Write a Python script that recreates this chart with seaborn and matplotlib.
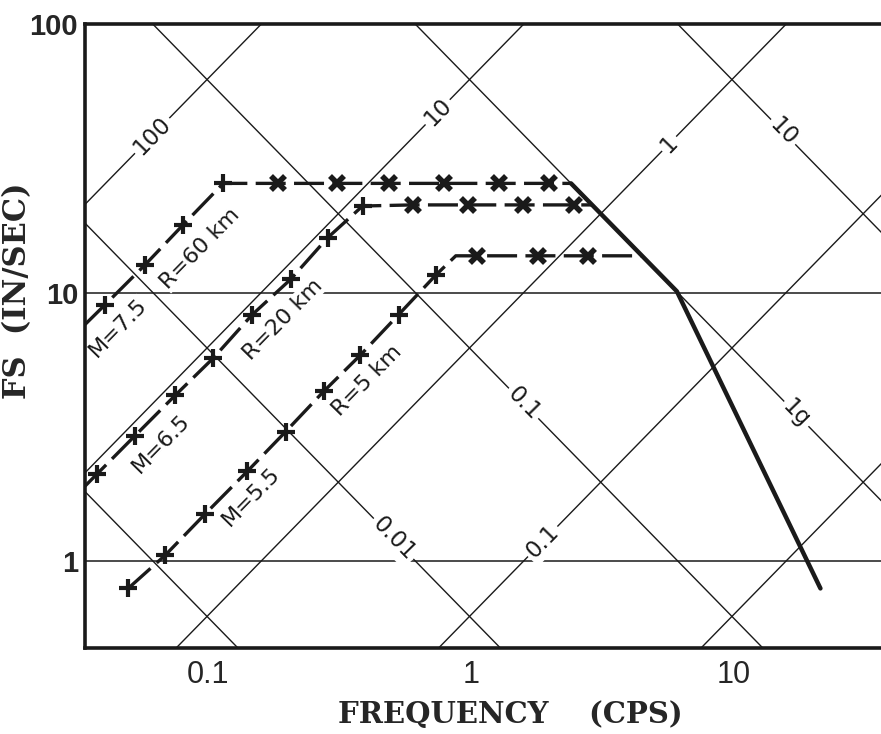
import matplotlib
matplotlib.use("Agg")
import numpy as np
import pandas as pd
import matplotlib.pyplot as plt
import seaborn as sns
from matplotlib.ticker import NullLocator

sns.set_theme(style="white")
plt.rcParams["font.family"] = ["DejaVu Sans"]

# ---------------------------------------------------------------
# spectra (frequency in cps, FS in in/sec)
# ---------------------------------------------------------------
freq_75 = [0.0339, 0.0404, 0.0575, 0.0803, 0.114, 0.185, 0.308, 0.487, 0.789, 1.28, 1.99, 2.41]
vel_75 = [7.6, 9.0, 12.7, 17.9, 25.5, 25.5, 25.5, 25.5, 25.5, 25.5, 25.5, 25.5]
mark_75 = ["", "+", "+", "+", "+", "x", "x", "x", "x", "x", "x", ""]

freq_65 = [0.0339, 0.0377, 0.0526, 0.0748, 0.1045, 0.147, 0.206, 0.285, 0.387,
           0.601, 0.98, 1.58, 2.47, 2.9]
vel_65 = [1.9, 2.11, 2.93, 4.14, 5.7, 8.27, 11.2, 16.0, 21.0, 21.2, 21.2, 21.2, 21.2, 21.2]
mark_65 = ["", "+", "+", "+", "+", "+", "+", "+", "+", "x", "x", "x", "x", ""]

freq_55 = [0.0495, 0.0685, 0.0975, 0.141, 0.197, 0.275, 0.380, 0.531, 0.735,
           0.877, 1.06, 1.80, 2.80, 4.45]
vel_55 = [0.79, 1.05, 1.50, 2.16, 3.03, 4.28, 5.85, 8.27, 11.6, 13.7, 13.7, 13.7, 13.7, 13.7]
mark_55 = ["+", "+", "+", "+", "+", "+", "+", "+", "+", "", "x", "x", "x", ""]

# heavy envelope line
freq_env = [2.41, 6.1, 21.5]
vel_env = [25.5, 10.1, 0.79]

# tripartite grid: displacement (in) and acceleration (g)
disp_lines = [100, 10, 1, 0.1, 0.01]
disp_text = ["100", "10", "1", "0.1", ""]
disp_label_f = [0.0611, 0.748, 5.70, 1.88, None]
acc_lines = [10, 1, 0.1, 0.01, 0.001]
acc_text = ["10", "1g", "0.1", "0.01", ""]
acc_label_f = [15.5, 17.4, 1.59, 0.508, None]
G_IN = 386.1

# curve captions
cap_text = ["M=7.5", "R=60 km", "M=6.5", "R=20 km", "M=5.5", "R=5 km"]
cap_f = [0.0453, 0.0932, 0.0662, 0.192, 0.146, 0.404]
cap_v = [7.39, 14.6, 2.73, 7.92, 1.73, 4.71]

# ---------------------------------------------------------------
fig = plt.figure(figsize=(8.81, 7.34), dpi=100)
ax = fig.add_axes([0.0965, 0.1172, 0.905, 0.850])
ax.set_xscale("log")
ax.set_yscale("log")
ax.set_xlim(0.0339, 37.0)
ax.set_ylim(0.474, 100)

# angle of a slope +1 line on screen
p0 = ax.transData.transform((1, 1))
p1 = ax.transData.transform((10, 10))
ang = np.degrees(np.arctan2(p1[1] - p0[1], p1[0] - p0[0]))

f_ends = np.array(ax.get_xlim())
for d, txt, lf in zip(disp_lines, disp_text, disp_label_f):
    ax.plot(f_ends, 2 * np.pi * f_ends * d, color="k", lw=1.0, zorder=1)
    if lf:
        ax.text(lf, 2 * np.pi * lf * d, txt, rotation=ang, ha="center", va="center",
                rotation_mode="anchor", fontsize=16.5, color="k", zorder=2,
                bbox=dict(fc="white", ec="none", pad=2))
for a, txt, lf in zip(acc_lines, acc_text, acc_label_f):
    ax.plot(f_ends, a * G_IN / (2 * np.pi * f_ends), color="k", lw=1.0, zorder=1)
    if lf:
        ax.text(lf, a * G_IN / (2 * np.pi * lf), txt, rotation=-ang, ha="center", va="center",
                rotation_mode="anchor", fontsize=16.5, color="k", zorder=2,
                bbox=dict(fc="white", ec="none", pad=2))

for fr, ve, mk in [(freq_75, vel_75, mark_75), (freq_65, vel_65, mark_65), (freq_55, vel_55, mark_55)]:
    df = pd.DataFrame({"freq": fr, "vel": ve, "mark": mk})
    sns.lineplot(data=df, x="freq", y="vel", sort=False, estimator=None, color="k",
                 lw=2.4, linestyle=(0, (9, 2.5)), ax=ax, zorder=3)
    plus = df[df["mark"] == "+"]
    cross = df[df["mark"] == "x"]
    ax.plot(plus["freq"], plus["vel"], ls="none", marker="+", ms=13, mew=3, color="k", zorder=4)
    ax.plot(cross["freq"], cross["vel"], ls="none", marker="x", ms=10, mew=4, color="k", zorder=4)

sns.lineplot(x=freq_env, y=vel_env, sort=False, estimator=None, color="k", lw=3.2, ax=ax, zorder=3)

for txt, f, v in zip(cap_text, cap_f, cap_v):
    ax.text(f, v, txt, rotation=ang, ha="center", va="center", rotation_mode="anchor",
            fontsize=16, color="k", zorder=2, bbox=dict(fc="white", ec="none", pad=0.5))

ax.grid(axis="y", which="major", color="k", lw=1.1)
ax.grid(axis="x", visible=False)
ax.set_xticks([0.1, 1, 10])
ax.set_xticklabels(["0.1", "1", "10"], fontfamily="Liberation Sans", fontsize=22)
ax.set_yticks([1, 10, 100])
ax.set_yticklabels(["1", "10", "100"], fontfamily="Liberation Sans", fontsize=21, fontweight="bold")
ax.xaxis.set_minor_locator(NullLocator())
ax.yaxis.set_minor_locator(NullLocator())
ax.tick_params(axis="x", length=0, pad=9)
ax.tick_params(axis="y", length=0, pad=5)

for side in ["left", "top", "bottom"]:
    ax.spines[side].set_color("k")
    ax.spines[side].set_linewidth(2.6)
ax.spines["right"].set_visible(False)

ax.set_xlabel("FREQUENCY    (CPS)", fontfamily="DejaVu Serif", fontweight="bold", fontsize=21)
ax.xaxis.set_label_coords(0.533, -0.083)
ax.set_ylabel("FS  (IN/SEC)", fontfamily="DejaVu Serif", fontweight="bold", fontsize=22)
ax.yaxis.set_label_coords(-0.065, 0.572)

fig.savefig("out.png", dpi=100)
